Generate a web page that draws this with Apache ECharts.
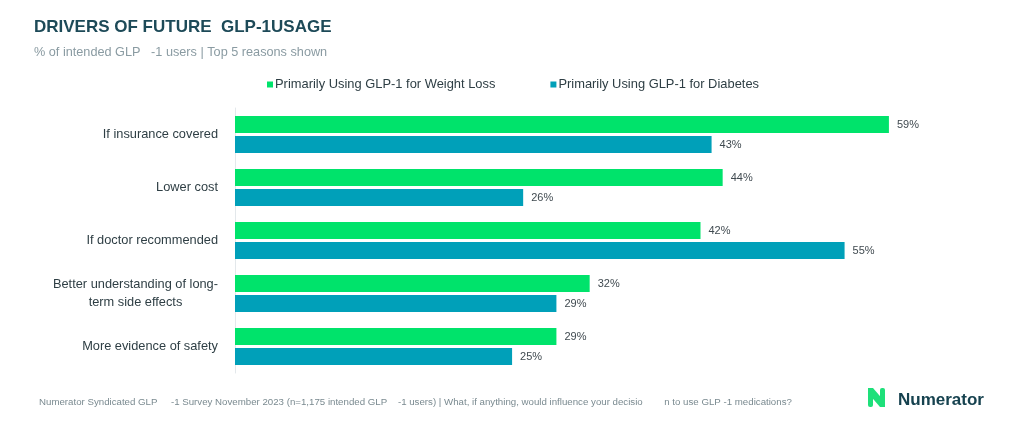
<!DOCTYPE html>
<html>
<head>
<meta charset="utf-8">
<script src="https://cdn.jsdelivr.net/npm/echarts@6/dist/echarts.min.js"></script>
<style>html,body{margin:0;padding:0;background:#fff;}#c{width:1024px;height:433px;}</style>
</head>
<body>
<div id="c"></div>
<script>
const categories = ["If insurance covered", "Lower cost", "If doctor recommended", "Better understanding of long-\nterm side effects", "More evidence of safety"];
const seriesNames = ["Primarily Using GLP-1 for Weight Loss", "Primarily Using GLP-1 for Diabetes"];
const weightLoss = [59, 44, 42, 32, 29];
const diabetes = [43, 26, 55, 29, 25];

const chart = echarts.init(document.getElementById('c'));
const labelCfg = {show: true, position: 'right', distance: 8, formatter: '{c}%', color: '#404a50', fontSize: 11, fontFamily: 'Arial, Liberation Sans'};
chart.setOption({
  animation: false,
  textStyle: {fontFamily: 'Arial, Liberation Sans'},
  title: [
    {text: 'DRIVERS OF FUTURE  GLP-1USAGE', left: 29, top: 14, textStyle: {fontSize: 17, fontWeight: 'bold', color: '#1d4a58', fontFamily: 'Arial, Liberation Sans'}},
    {text: '% of intended GLP   -1 users | Top 5 reasons shown', left: 29, top: 41, textStyle: {fontSize: 12.7, fontWeight: 'normal', color: '#8a9ba2', fontFamily: 'Arial, Liberation Sans'}},
    {text: 'Numerator Syndicated GLP     -1 Survey November 2023 (n=1,175 intended GLP    -1 users) | What, if anything, would influence your decisio        n to use GLP -1 medications?', left: 34, top: 392, textStyle: {fontSize: 9.7, fontWeight: 'normal', color: '#7a8a90', fontFamily: 'Arial, Liberation Sans'}},
    {text: 'Numerator', left: 893, top: 387, textStyle: {fontSize: 17, fontWeight: 'bold', color: '#16424f', fontFamily: 'Arial, Liberation Sans'}}
  ],
  legend: {
    top: 73, left: 262, itemWidth: 6, itemHeight: 6, itemGap: 55, icon: 'rect',
    textStyle: {fontSize: 12.9, color: '#2e3e44', padding: [0, 0, 0, -3]},
    data: seriesNames
  },
  graphic: [
    {type: 'polygon', shape: {points: [[868, 388], [873, 388], [885, 402], [885, 407], [880, 407], [868, 393]]}, style: {fill: '#1ee07a'}},
    {type: 'rect', shape: {x: 868, y: 388, width: 5, height: 19, r: 2}, style: {fill: '#1ee07a'}},
    {type: 'rect', shape: {x: 880, y: 388, width: 5, height: 19, r: 2}, style: {fill: '#1ee07a'}}
  ],
  grid: {left: 235, right: 124, top: 108, bottom: 60, containLabel: false},
  xAxis: {type: 'value', min: 0, max: 60, show: false},
  yAxis: {
    type: 'category', inverse: true, data: categories,
    axisLine: {show: true, lineStyle: {color: '#e3e8eb', width: 1}},
    axisTick: {show: false},
    axisLabel: {
      color: '#2e3e44', fontSize: 12.8, margin: 17, lineHeight: 18, align: 'right',
      formatter: function (v) { return v.split('\n').map(function (s) { return '{c|' + s + '}'; }).join('\n'); },
      rich: {c: {align: 'center', color: '#2e3e44', fontSize: 12.8, lineHeight: 18}}
    }
  },
  series: [
    {name: seriesNames[0], type: 'bar', data: weightLoss, barWidth: 17, barGap: '18%', itemStyle: {color: '#00e36b'}, label: labelCfg},
    {name: seriesNames[1], type: 'bar', data: diabetes, barWidth: 17, barGap: '18%', itemStyle: {color: '#00a0b9'}, label: labelCfg}
  ]
});
</script>
</body>
</html>
